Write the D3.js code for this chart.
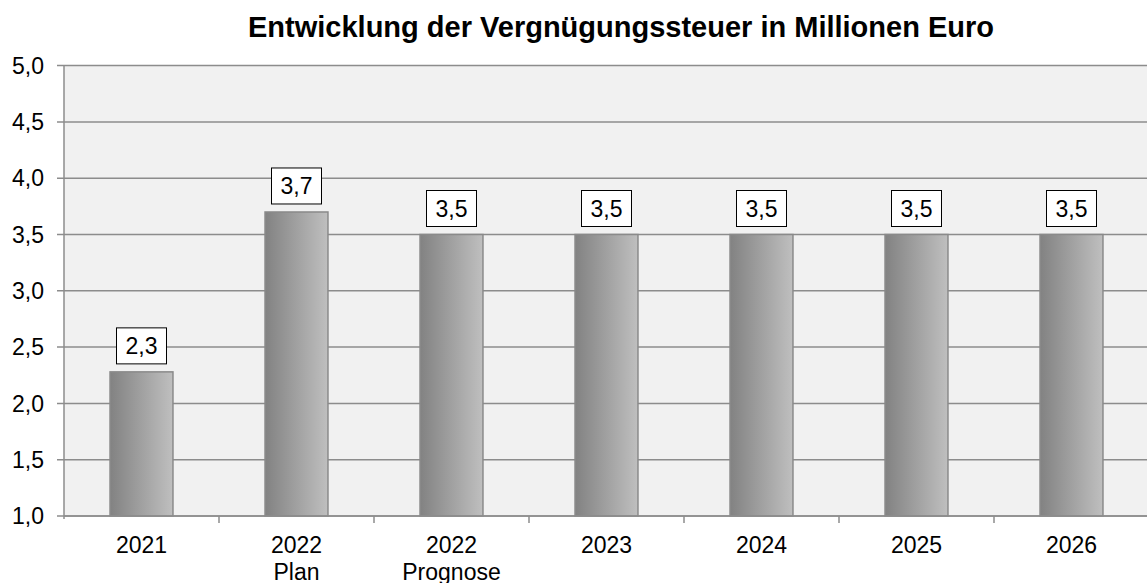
<!DOCTYPE html>
<html>
<head>
<meta charset="utf-8">
<script src="https://cdn.jsdelivr.net/npm/d3@7/dist/d3.min.js"></script>
<style>
  body { margin: 0; background: #fff; }
  text { font-family: "Liberation Sans", Arial, sans-serif; fill: #000; }
</style>
</head>
<body>
<div id="chart"></div>
<script>
var categories = [["2021"], ["2022", "Plan"], ["2022", "Prognose"], ["2023"], ["2024"], ["2025"], ["2026"]];
var values = [2.28, 3.7, 3.5, 3.5, 3.5, 3.5, 3.5];
var valueLabels = ["2,3", "3,7", "3,5", "3,5", "3,5", "3,5", "3,5"];
var yTicks = [1.0, 1.5, 2.0, 2.5, 3.0, 3.5, 4.0, 4.5, 5.0];
var title = "Entwicklung der Vergnügungssteuer in Millionen Euro";

(function() {
    var width = 1147, height = 583;
    var plotLeft = 64, plotRight = 1149, plotTop = 65.6, plotBottom = 516;

    var svg = d3.select("#chart").append("svg")
        .attr("width", width)
        .attr("height", height);

    var grad = svg.append("defs").append("linearGradient")
        .attr("id", "barGrad")
        .attr("x1", "0%").attr("x2", "100%").attr("y1", "0%").attr("y2", "0%");
    grad.append("stop").attr("offset", "0%").attr("stop-color", "#828282");
    grad.append("stop").attr("offset", "100%").attr("stop-color", "#bfbfbf");

    var x = d3.scaleBand()
        .domain(d3.range(categories.length))
        .range([plotLeft, plotRight])
        .paddingInner(0.594)
        .paddingOuter(0.297);

    var y = d3.scaleLinear().domain([1, 5]).range([plotBottom, plotTop]);

    // plot background
    svg.append("rect")
        .attr("x", plotLeft).attr("y", plotTop)
        .attr("width", plotRight - plotLeft).attr("height", plotBottom - plotTop)
        .attr("fill", "#f1f1f1");

    // grid lines
    svg.selectAll(".grid")
        .data(yTicks)
        .enter().append("line")
        .attr("class", "grid")
        .attr("x1", plotLeft - 7).attr("x2", plotRight)
        .attr("y1", function(d) { return y(d) })
        .attr("y2", function(d) { return y(d) })
        .attr("stroke", "#8c8c8c")
        .attr("stroke-width", 1.5);

    svg.selectAll(".ylab")
        .data(yTicks)
        .enter().append("text")
        .attr("class", "ylab")
        .attr("x", 44)
        .attr("y", function(d) { return y(d) })
        .attr("dy", "0.36em")
        .attr("text-anchor", "end")
        .style("font-size", "23px")
        .text(function(d) { return d3.format(".1f")(d).replace(".", ",") });

    // y axis line
    svg.append("line")
        .attr("x1", plotLeft).attr("x2", plotLeft).attr("y1", plotTop).attr("y2", plotBottom + 3)
        .attr("stroke", "#8c8c8c").attr("stroke-width", 1.5);

    var gap = x.step() - x.bandwidth();
    svg.selectAll(".xtick")
        .data(d3.range(1, categories.length))
        .enter().append("line")
        .attr("class", "xtick")
        .attr("x1", function(i) { return x(i) - gap / 2 })
        .attr("x2", function(i) { return x(i) - gap / 2 })
        .attr("y1", plotBottom).attr("y2", plotBottom + 7)
        .attr("stroke", "#8c8c8c").attr("stroke-width", 1.5);

    // bars
    svg.selectAll(".bar")
        .data(values)
        .enter().append("rect")
        .attr("class", "bar")
        .attr("x", function(d, i) { return x(i) })
        .attr("y", function(d) { return y(d) })
        .attr("width", x.bandwidth())
        .attr("height", function(d) { return plotBottom - y(d) })
        .attr("fill", "url(#barGrad)")
        .attr("stroke", "#8a8a8a")
        .attr("stroke-width", 1.5);

    // value labels in boxes
    var lab = svg.selectAll(".vlab")
        .data(values)
        .enter().append("g")
        .attr("class", "vlab")
        .attr("transform", function(d, i) {
            return "translate(" + (x(i) + x.bandwidth() / 2) + "," + (y(d) - 8) + ")"
        });

    lab.append("rect")
        .attr("x", -25).attr("y", -36)
        .attr("width", 50).attr("height", 36)
        .attr("fill", "#fff")
        .attr("stroke", "#000")
        .attr("stroke-width", 1);

    lab.append("text")
        .attr("x", 0).attr("y", -10)
        .attr("text-anchor", "middle")
        .style("font-size", "23px")
        .text(function(d, i) { return valueLabels[i] });

    // x axis line
    svg.append("line")
        .attr("x1", plotLeft).attr("x2", plotRight).attr("y1", plotBottom).attr("y2", plotBottom)
        .attr("stroke", "#8c8c8c").attr("stroke-width", 1.5);

    // category labels
    var cl = svg.selectAll(".xlab")
        .data(categories)
        .enter().append("text")
        .attr("class", "xlab")
        .attr("text-anchor", "middle")
        .style("font-size", "23px");

    cl.selectAll("tspan")
        .data(function(d, i) { return d.map(function(s) { return { s: s, i: i } }) })
        .enter().append("tspan")
        .attr("x", function(d) { return x(d.i) + x.bandwidth() / 2 })
        .attr("y", function(d, j) { return 553 + j * 27 })
        .text(function(d) { return d.s });

    svg.append("text")
        .attr("x", 621)
        .attr("y", 37)
        .attr("text-anchor", "middle")
        .style("font-size", "29px")
        .style("font-weight", "bold")
        .text(title);
})();
</script>
</body>
</html>
